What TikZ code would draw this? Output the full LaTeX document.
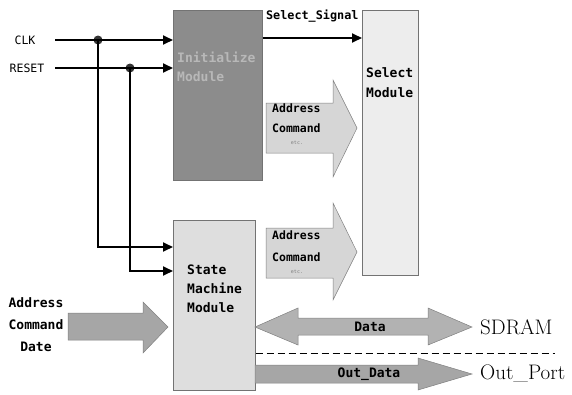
\documentclass[tikz,border=0pt]{standalone}
\usepackage{fontspec}
\newfontfamily\gothic{DejaVu Sans Mono}
\usetikzlibrary{arrows.meta}

\begin{document}
\begin{tikzpicture}[x=1pt, y=-1pt,
  mod/.style={draw=black!55, line width=0.6pt, anchor=north west, inner sep=0pt},
  lbl/.style={font=\gothic\bfseries\fontsize{13}{19}\selectfont, align=left, inner sep=0pt},
  small/.style={font=\gothic\bfseries\fontsize{11.5}{20}\selectfont, align=left, inner sep=0pt},
  tiny/.style={font=\gothic\fontsize{5}{6}\selectfont, text=black!50, inner sep=0pt},
  port/.style={font=\fontsize{21}{24}\selectfont, anchor=west, inner sep=0pt},
  sig/.style={-{Triangle[length=10pt,width=9pt]}, line width=1.8pt},
  blk/.style={draw=black!50, line width=0.5pt},
  dot/.style={circle, fill=black!80, minimum size=9pt, inner sep=0pt}
]
  \useasboundingbox (0,0) rectangle (572,394);

  % modules
  \node[mod, fill=black!45, minimum width=89pt, minimum height=170pt] (init) at (173,10) {};
  \node[mod, fill=black!7, minimum width=56pt, minimum height=265pt] (sel) at (362,10) {};
  \node[mod, fill=black!13, minimum width=82pt, minimum height=170pt] (sm) at (173,220) {};

  \node[lbl, anchor=west, text=black!28] (initlbl) at (177,67) {Initialize\\Module};
  \node[lbl, anchor=west, font=\gothic\bfseries\fontsize{13}{20}\selectfont] (sellbl) at (366,83) {Select\\Module};
  \node[lbl, anchor=west] (smlbl) at (187,289) {State\\Machine\\Module};

  % clock and reset
  \node[lbl, font=\gothic\fontsize{11.5}{13}\selectfont] (clk) at (25,40) {CLK};
  \node[lbl, font=\gothic\fontsize{11.5}{13}\selectfont] (rst) at (27,68) {RESET};
  \coordinate (clkin) at (55,40);
  \coordinate (rstin) at (55,68);
  \node[dot] (clkdot) at (98,40) {};
  \node[dot] (rstdot) at (130,68) {};

  \draw[sig] (clkin) -- (init.west |- clkin);
  \draw[sig] (rstin) -- (init.west |- rstin);
  \draw[sig] (clkdot.center) |- ([yshift=-27pt]sm.north west);
  \draw[sig] (rstdot.center) |- ([yshift=-51pt]sm.north west);

  % select signal
  \draw[sig] ([yshift=-28pt]init.north east) -- ([yshift=-28pt]sel.north west)
    node[midway, above=15pt, small, font=\gothic\bfseries\fontsize{11.8}{14}\selectfont] (sellab) {Select\_Signal};

  % address / command arrows
  \draw[blk, fill=black!16] (266,103) -- (333,103) -- (333,80) -- (357,128)
    -- (333,177) -- (333,153) -- (266,153) -- cycle;
  \node[small, anchor=west] (cmd1) at (272,118) {Address\\Command};
  \node[tiny] (etc1) at (297,143) {etc.};

  \draw[blk, fill=black!16] (266,228) -- (333,228) -- (333,203) -- (357,252)
    -- (333,300) -- (333,278) -- (266,278) -- cycle;
  \node[small, anchor=west, font=\gothic\bfseries\fontsize{11.5}{22}\selectfont] (cmd2) at (272,246) {Address\\Command};
  \node[tiny] (etc2) at (297,272) {etc.};

  % input arrow
  \draw[blk, fill=black!35] (68,313) -- (143,313) -- (143,302) -- (168,327)
    -- (143,353) -- (143,340) -- (68,340) -- cycle;
  \node[lbl, align=center, font=\gothic\bfseries\fontsize{13}{22}\selectfont] (inlbl) at (36,325) {Address\\Command\\Date};

  % data bus
  \draw[blk, fill=black!30] (255,327) -- (298,308) -- (298,318) -- (428,318)
    -- (428,308) -- (472,327) -- (428,345) -- (428,335) -- (298,335) -- (298,345) -- cycle;
  \node[lbl] (datalbl) at (370,327) {Data};
  \node[port] (sdram) at (480,327) {SDRAM};

  \draw[line width=1pt, dash pattern=on 7pt off 4pt] (sm.east |- 0,353) -- (555,353);

  % out data
  \draw[blk, fill=black!35] (255,365) -- (418,365) -- (418,358) -- (472,374)
    -- (418,390) -- (418,383) -- (255,383) -- cycle;
  \node[lbl] (outlbl) at (369,374) {Out\_Data};
  \node[port] (outport) at (480,374) {Out\_Port};
\end{tikzpicture}
\end{document}
